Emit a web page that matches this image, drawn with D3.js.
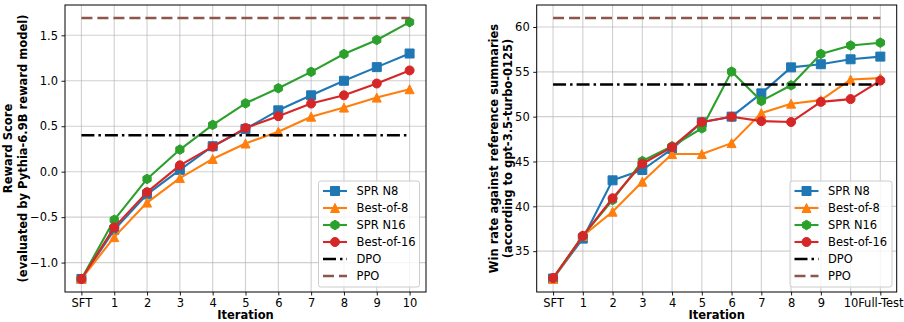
<!DOCTYPE html>
<html><head><meta charset="utf-8">
<script src="https://cdn.jsdelivr.net/npm/d3@7"></script>
<style>body{margin:0;background:#fff} text{font-family:"DejaVu Sans",sans-serif}</style>
</head><body><svg id="c" width="904" height="322"></svg>
<script>
// ---- data ----
const leftCategories = ["SFT","1","2","3","4","5","6","7","8","9","10"];
const rightCategories = ["SFT","1","2","3","4","5","6","7","8","9","10","Full-Test"];
const seriesNames = ["SPR N8","Best-of-8","SPR N16","Best-of-16"];
const refNames = ["DPO","PPO"];

const leftSprN8   = [-1.18,-0.64,-0.25,0.02,0.28,0.47,0.675,0.84,1.0,1.15,1.30];
const leftBest8   = [-1.18,-0.72,-0.34,-0.07,0.14,0.31,0.44,0.605,0.705,0.815,0.907];
const leftSprN16  = [-1.18,-0.53,-0.08,0.243,0.515,0.752,0.918,1.098,1.294,1.449,1.645];
const leftBest16  = [-1.18,-0.613,-0.225,0.07,0.275,0.48,0.61,0.749,0.84,0.97,1.114];
const leftDPO = 0.40, leftPPO = 1.69;
const leftYTicks = [-1.0,-0.5,0.0,0.5,1.0,1.5];

const rightSprN8  = [31.95,36.4,42.9,44.05,46.4,49.37,50.0,52.6,55.5,55.85,56.4,56.7];
const rightBest8  = [31.9,36.7,39.4,42.75,45.83,45.83,47.05,50.4,51.45,51.85,54.14,54.3];
const rightSprN16 = [32.0,36.7,40.7,45.05,46.7,48.7,55.03,51.75,53.5,57.0,57.94,58.25];
const rightBest16 = [32.0,36.7,40.9,44.75,46.6,49.4,50.0,49.5,49.4,51.65,51.96,54.03];
const rightDPO = 53.6, rightPPO = 61.0;
const rightYTicks = [35,40,45,50,55,60];

// ---- styles ----
const colors = ["#1f77b4","#ff7f0e","#2ca02c","#d62728"];
const shapes = ["square","triangle","hexagon","circle"];
const refColors = ["#000000","#8c564b"];
const refDash = ["13,4,2.5,4","11,5"];

const svg = d3.select("#c");

function markerPath(shape, s){
  const h = s/2;
  if(shape==="square") return `M${-h},${-h}H${h}V${h}H${-h}Z`;
  if(shape==="triangle") return `M0,${-h}L${h},${h}L${-h},${h}Z`;
  if(shape==="circle") return `M${h},0A${h},${h} 0 1,1 ${-h},0A${h},${h} 0 1,1 ${h},0Z`;
  if(shape==="hexagon"){
    const pts=d3.range(6).map(k=>{const a=-Math.PI/2+k*Math.PI/3;return [h*Math.cos(a),h*Math.sin(a)];});
    return "M"+pts.map(p=>p.join(",")).join("L")+"Z";
  }
}

function drawPanel(cfg){
  const {x0,x1,y0,y1,cats,series,dpo,ppo,yTicks,yFmt,ylabel,ylabelX,legend} = cfg;
  const n = cats.length;
  const allVals = series.flat().concat([dpo,ppo]);
  const mn = d3.min(allVals), mx = d3.max(allVals), r = mx-mn;
  const x = d3.scaleLinear().domain([-0.05*(n-1), (n-1)*1.05]).range([x0,x1]);
  const y = d3.scaleLinear().domain([mn-0.05*r, mx+0.05*r]).range([y1,y0]);
  const g = svg.append("g");

  // grid
  g.append("g").selectAll("line").data(d3.range(n)).join("line")
    .attr("x1",d=>x(d)).attr("x2",d=>x(d)).attr("y1",y0).attr("y2",y1)
    .attr("stroke","#b0b0b0").attr("stroke-opacity",0.6).attr("stroke-width",1.1);
  g.append("g").selectAll("line").data(yTicks).join("line")
    .attr("x1",x0).attr("x2",x1).attr("y1",d=>y(d)).attr("y2",d=>y(d))
    .attr("stroke","#b0b0b0").attr("stroke-opacity",0.6).attr("stroke-width",1.1);

  // axes
  const xAxis = d3.axisBottom(x).tickValues(d3.range(n)).tickFormat(i=>cats[i]).tickSizeOuter(0).tickSizeInner(3.5).tickPadding(3.5);
  const gx = g.append("g").attr("transform",`translate(0,${y1})`).call(xAxis);
  const yAxis = d3.axisLeft(y).tickValues(yTicks).tickFormat(d=>yFmt(d).replace("-","\u2212")).tickSizeOuter(0).tickSizeInner(3.5).tickPadding(3.5);
  const gy = g.append("g").attr("transform",`translate(${x0},0)`).call(yAxis);
  [gx,gy].forEach(a=>{
    a.select(".domain").remove();
    a.selectAll("text").attr("font-size","11.5px").attr("fill","#000").attr("font-family","DejaVu Sans");
    a.selectAll("line").attr("stroke","#000").attr("stroke-width",0.9);
  });

  // series
  series.forEach((vals,si)=>{
    const line = d3.line().x((d,i)=>x(i)).y(d=>y(d));
    const sg = g.append("g");
    sg.append("path").datum(vals).attr("d",line).attr("fill","none")
      .attr("stroke",colors[si]).attr("stroke-width",2.1).attr("stroke-linejoin","round");
    sg.selectAll("path.m").data(vals).join("path").attr("class","m")
      .attr("transform",(d,i)=>`translate(${x(i)},${y(d)})`)
      .attr("d",markerPath(shapes[si], shapes[si]==="hexagon"?9.5:9))
      .attr("fill",colors[si]).attr("stroke",colors[si]).attr("stroke-width",1);
  });

  // reference lines
  [dpo,ppo].forEach((v,k)=>{
    g.append("line").attr("x1",x(0)).attr("x2",x(n-1)).attr("y1",y(v)).attr("y2",y(v))
      .attr("stroke",refColors[k]).attr("stroke-width",2.5).attr("stroke-dasharray",refDash[k]);
  });

  // frame
  g.append("rect").attr("x",x0).attr("y",y0).attr("width",x1-x0).attr("height",y1-y0)
    .attr("fill","none").attr("stroke","#000").attr("stroke-width",1);

  // x label
  g.append("text").attr("x",(x0+x1)/2).attr("y",319).attr("text-anchor","middle")
    .attr("font-size","11.5px").attr("font-weight","bold").text("Iteration");

  // y label
  const yl = g.append("text").attr("transform",`translate(${ylabelX},${(y0+y1)/2}) rotate(-90)`)
    .attr("text-anchor","middle").attr("font-size","11.5px").attr("font-weight","bold");
  ylabel.forEach((t,i)=>yl.append("tspan").attr("x",0).attr("y",i*14.5).text(t));

  // legend
  const L = legend;
  const lg = g.append("g");
  lg.append("rect").attr("x",L.x).attr("y",L.y).attr("width",L.w).attr("height",L.h).attr("rx",2.5)
    .attr("fill","#fff").attr("fill-opacity",0.8).attr("stroke","#cccccc").attr("stroke-width",1);
  const names = seriesNames.concat(refNames);
  names.forEach((nm,i)=>{
    const cy = L.y + 10 + i*17;
    const hx0 = L.x+4.5, hx1 = L.x+28.5;
    if(i<4){
      lg.append("line").attr("x1",hx0).attr("x2",hx1).attr("y1",cy).attr("y2",cy)
        .attr("stroke",colors[i]).attr("stroke-width",2.1);
      lg.append("path").attr("transform",`translate(${(hx0+hx1)/2},${cy})`)
        .attr("d",markerPath(shapes[i], shapes[i]==="hexagon"?9.5:9))
        .attr("fill",colors[i]).attr("stroke",colors[i]).attr("stroke-width",1);
    } else {
      const k=i-4;
      lg.append("line").attr("x1",hx0).attr("x2",hx1).attr("y1",cy).attr("y2",cy)
        .attr("stroke",refColors[k]).attr("stroke-width",2.5).attr("stroke-dasharray",refDash[k]);
    }
    lg.append("text").attr("x",L.x+38).attr("y",cy+4.2).attr("font-size","11.5px").attr("fill","#000").text(nm);
  });
}

drawPanel({x0:65,x1:426,y0:5,y1:292,cats:leftCategories,
  series:[leftSprN8,leftBest8,leftSprN16,leftBest16],dpo:leftDPO,ppo:leftPPO,
  yTicks:leftYTicks,yFmt:d3.format(".1f"),
  ylabel:["Reward Score","(evaluated by Pythia-6.9B reward model)"],ylabelX:12,
  legend:{x:318.5,y:181,w:101,h:106}});

drawPanel({x0:536.7,x1:896.7,y0:5,y1:292,cats:rightCategories,
  series:[rightSprN8,rightBest8,rightSprN16,rightBest16],dpo:rightDPO,ppo:rightPPO,
  yTicks:rightYTicks,yFmt:d3.format("d"),
  ylabel:["Win rate against reference summaries","(according to gpt-3.5-turbo-0125)"],ylabelX:497.5,
  legend:{x:790,y:181,w:102,h:106}});
</script>
</body></html>
